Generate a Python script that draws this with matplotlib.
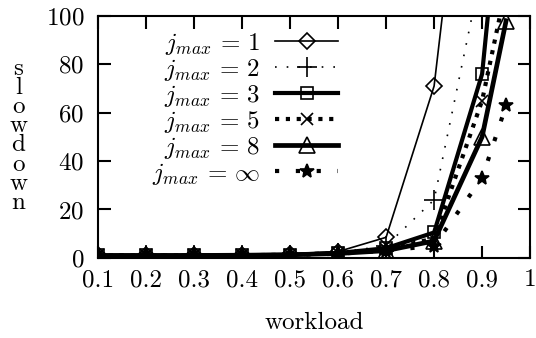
import matplotlib
matplotlib.use("Agg")
import matplotlib.pyplot as plt

# =========================
# data
# =========================
workload = [0.1, 0.2, 0.3, 0.4, 0.5, 0.6, 0.7, 0.8, 0.9, 0.95]

slow_j1 = [1.0, 1.0, 1.0, 1.2, 1.6, 2.6, 8.5, 71, 240]
slow_j2 = [1.0, 1.0, 1.0, 1.1, 1.4, 2.2, 5.0, 24, 120]
slow_j3 = [1.0, 1.0, 1.0, 1.1, 1.3, 2.0, 4.0, 10.5, 76, 176]
slow_j5 = [1.0, 1.0, 1.0, 1.1, 1.3, 2.0, 3.5, 8.0, 65, 112]
slow_j8 = [1.0, 1.0, 1.0, 1.1, 1.3, 1.8, 3.0, 7.0, 50, 98]
slow_jinf = [1.0, 1.0, 1.0, 1.1, 1.2, 1.7, 3.0, 5.0, 33, 63]

labels = [r"$j_{max}$ = 1", r"$j_{max}$ = 2", r"$j_{max}$ = 3",
          r"$j_{max}$ = 5", r"$j_{max}$ = 8", r"$j_{max}$ = $\infty$"]
x_ticks = [0.1, 0.2, 0.3, 0.4, 0.5, 0.6, 0.7, 0.8, 0.9, 1.0]
x_tick_labels = ["0.1", "0.2", "0.3", "0.4", "0.5", "0.6", "0.7", "0.8", "0.9", "1"]
y_ticks = [0, 20, 40, 60, 80, 100]

FS = 18

plt.rcParams["font.family"] = ["cmr10", "DejaVu Serif"]
plt.rcParams["mathtext.fontset"] = "cm"
plt.rcParams["axes.formatter.use_mathtext"] = True

fig = plt.figure(figsize=(5.36, 3.38), dpi=100)
ax = fig.add_axes([0.183, 0.237, 0.806, 0.716])

styles = [
    dict(data=slow_j1, marker="D", ms=8, lw=1.2, ls="-"),
    dict(data=slow_j2, marker="+", ms=14, lw=1.2, ls=(0, (1, 6))),
    dict(data=slow_j3, marker="s", ms=9, lw=3.0, ls="-"),
    dict(data=slow_j5, marker="x", ms=9, lw=3.0, ls=(0, (1, 1.6))),
    dict(data=slow_j8, marker="^", ms=12, lw=3.4, ls="-"),
    dict(data=slow_jinf, marker="*", ms=10, lw=3.0, ls=(0, (1, 4))),
]

for st, label in zip(styles, labels):
    ys = st["data"]
    ax.plot(workload[:len(ys)], ys, color="black", linestyle=st["ls"],
            linewidth=st["lw"], marker=st["marker"], markersize=st["ms"],
            markerfacecolor="none" if st["marker"] not in ("*", "+", "x") else "black",
            markeredgecolor="black", markeredgewidth=1.2,
            dash_capstyle="butt", label=label)

ax.set_xlim(0.1, 1.0)
ax.set_ylim(0, 100)
ax.set_xticks(x_ticks)
ax.set_xticklabels(x_tick_labels)
ax.set_yticks(y_ticks)
ax.tick_params(direction="in", length=9, width=1.5, top=True, right=True,
               labelsize=FS)
ax.tick_params(axis="x", pad=8)
ax.tick_params(axis="y", pad=10)
for spine in ax.spines.values():
    spine.set_linewidth(1.5)

ax.set_xlabel("workload", fontsize=FS, labelpad=15)
fig.text(0.034, 0.598, "s\nl\no\nw\nd\no\nw\nn", fontsize=FS, ha="center",
         va="center", linespacing=0.82)

ax.legend(loc="upper left", bbox_to_anchor=(0.09, 1.0), frameon=False,
          markerfirst=False, fontsize=FS, handlelength=2.5, labelspacing=0.0,
          handletextpad=0.6, borderaxespad=0.2, numpoints=1)

fig.savefig("out.png", dpi=100)
